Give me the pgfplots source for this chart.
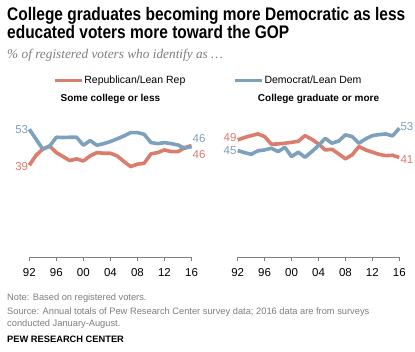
\documentclass[border=0pt]{standalone}
\usepackage{pgfplots}
\pgfplotsset{compat=1.18}
\usepackage{pgfplotstable}
\usepackage{fontspec}
\setmainfont{Liberation Sans}
\newfontfamily\titlefont[FakeStretch=0.85]{Liberation Sans}
\newfontfamily\subfont{Liberation Serif}
\definecolor{rep}{RGB}{218,125,108}
\definecolor{dem}{RGB}{125,160,189}
\definecolor{notegray}{RGB}{125,125,125}

\pgfplotstableread{
year repA demA repB demB
1992 39.5 53 49 45
1993 43.2 49.3 49.9 44.25
1994 45.6 45.5 50.6 43.6
1995 46.75 46.6 51.25 44.9
1996 44.25 50 50.25 45.25
1997 42.75 49.9 47.4 45.9
1998 41.25 50 47.5 44.6
1999 41.9 50 47.75 46.25
2000 41.1 47 48.1 42.75
2001 43 48.75 48.5 44.4
2002 44.25 47 50.6 42.5
2003 44 47.6 49.25 44.6
2004 44 48.4 47.5 46.9
2005 43 49.4 45.25 49.6
2006 40.9 50.5 45.5 47.75
2007 39 51.75 43.75 48.6
2008 39.9 51.75 41.9 50.9
2009 40.25 51.1 43.4 50.25
2010 43.75 48 46.5 47.75
2011 44.25 47.6 45.25 49.4
2012 45.25 48 44.4 50.6
2013 44.6 47.6 43.6 51
2014 44.6 47.1 43.1 51.25
2015 46.1 45.9 43.25 50.5
2016 46.9 46.5 42.4 53.4
}\data

\tikzset{endlabel/.style={font=\fontsize{11.5}{13}\selectfont, inner sep=1pt}}

\pgfplotsset{pew/.style={
  scale only axis, height=146.6pt,
  xmin=1992, xmax=2016, ymin=5, ymax=60,
  axis y line=none, axis x line*=bottom,
  x axis line style={draw=gray, line width=0.8pt},
  xtick={1992,1996,...,2016}, xticklabels={92,96,00,04,08,12,16},
  tick align=outside, major tick length=3.5pt,
  xtick style={draw=gray, line width=0.8pt},
  xticklabel style={font=\fontsize{11.5}{13}\selectfont, yshift=-4.5pt},
  clip=false,
  title style={font=\bfseries\fontsize{10}{12}\selectfont, at={(axis description cs:0.5,1)}, anchor=base, yshift=3pt},
  every axis plot/.append style={line width=3.6pt, line join=round, no markers},
}}

\begin{document}
\begin{tikzpicture}
\useasboundingbox (0,0) rectangle (415pt,351pt);

\node[anchor=base west, inner sep=0] at (7pt,330pt) {\titlefont\bfseries\fontsize{18.2}{20}\selectfont College graduates becoming more Democratic as less};
\node[anchor=base west, inner sep=0] at (7pt,312.5pt) {\titlefont\bfseries\fontsize{18.2}{20}\selectfont educated voters more toward the GOP};
\node[anchor=base west, inner sep=0, text=notegray] at (7pt,292pt) {\subfont\itshape\fontsize{13.3}{15}\selectfont \% of registered voters who identify as \dots};

\begin{axis}[pew, width=162.2pt, at={(29.3pt,93.8pt)}, anchor=south west,
  title={Some college or less},
  legend style={at={(axis description cs:0.146,1.2065)}, anchor=west, draw=none, fill=none,
    legend columns=2, inner sep=0pt, font=\fontsize{10.5}{12}\selectfont,
    nodes={inner sep=1pt},
    /tikz/every even column/.append style={column sep=47pt}},
  legend image code/.code={\draw[#1, line width=3.2pt] (0pt,0pt) -- (27pt,0pt);},
]
\addplot[rep] table[x=year, y=repA] {\data};
\addlegendentry{Republican/Lean Rep}
\addplot[dem] table[x=year, y=demA] {\data};
\addlegendentry{Democrat/Lean Dem}
\node[endlabel, anchor=east, text=dem] at (axis cs:1992,53) {53};
\node[endlabel, anchor=east, text=rep] at (axis cs:1992,39) {39};
\node[endlabel, anchor=west, text=dem] at (axis cs:2016,49.6) {46};
\node[endlabel, anchor=west, text=rep] at (axis cs:2016,43.4) {46};
\end{axis}

\begin{axis}[pew, width=161.6pt, at={(237.7pt,93.8pt)}, anchor=south west,
  title={College graduate or more}]
\addplot[rep] table[x=year, y=repB] {\data};
\addplot[dem] table[x=year, y=demB] {\data};
\node[endlabel, anchor=east, text=rep] at (axis cs:1992,50) {49};
\node[endlabel, anchor=east, text=dem] at (axis cs:1992,45) {45};
\node[endlabel, anchor=west, text=dem] at (axis cs:2016,54.2) {53};
\node[endlabel, anchor=west, text=rep] at (axis cs:2016,41.5) {41};
\end{axis}

\begin{scope}[font=\fontsize{9.3}{11}\selectfont]
\node[anchor=base west, inner sep=0, text=notegray] at (7pt,50.3pt) {Note: Based on registered voters.};
\node[anchor=base west, inner sep=0, text=notegray] at (7pt,37pt) {Source: Annual totals of Pew Research Center survey data; 2016 data are from surveys};
\node[anchor=base west, inner sep=0, text=notegray] at (7pt,24.3pt) {conducted January-August.};
\node[anchor=base west, inner sep=0] at (7pt,8.7pt) {\bfseries PEW RESEARCH CENTER};
\end{scope}
\end{tikzpicture}
\end{document}
